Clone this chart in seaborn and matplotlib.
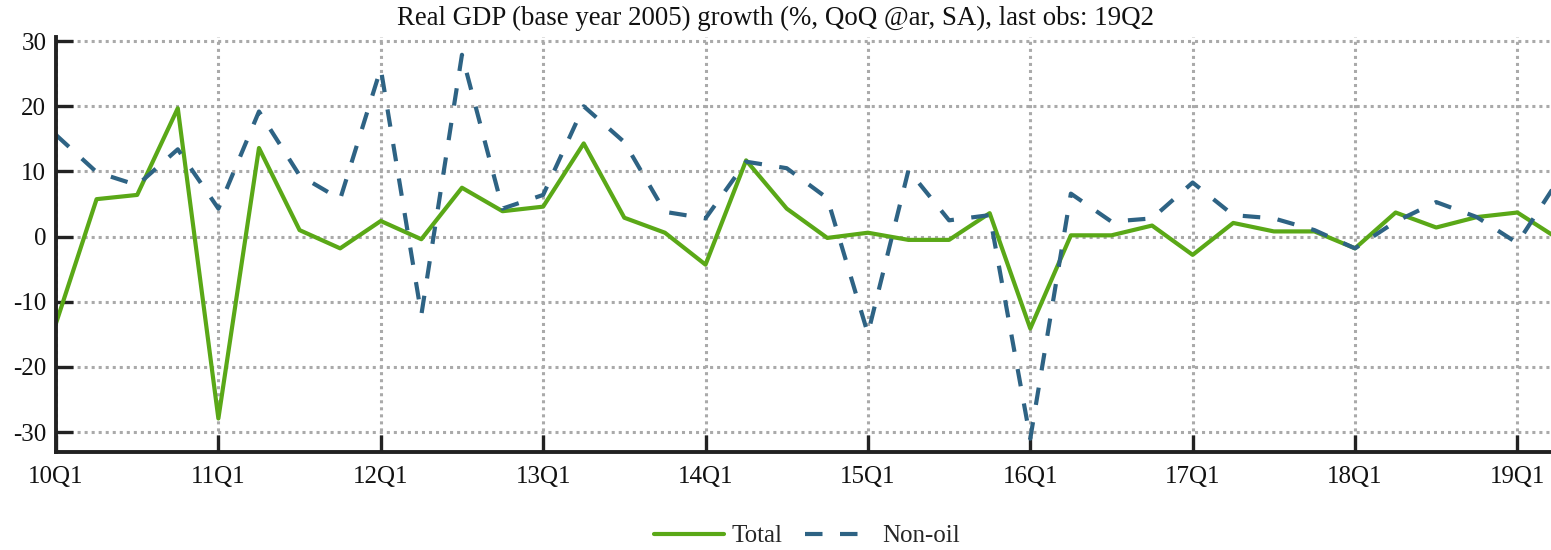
import matplotlib
matplotlib.use("Agg")
import matplotlib.pyplot as plt
import seaborn as sns
import pandas as pd
import numpy as np

quarters = [f"{y:02d}Q{q}" for y in range(10, 20) for q in range(1, 5)][:38]

total = [-13.3, 5.75, 6.4, 19.7, -27.9, 13.6, 1.0, -1.8,
         2.4, -0.4, 7.5, 3.9, 4.6, 14.3, 2.9, 0.6,
         -4.3, 11.7, 4.3, -0.2, 0.6, -0.5, -0.5, 3.6,
         -14.1, 0.2, 0.2, 1.7, -2.8, 2.1, 0.8, 0.8,
         -1.8, 3.7, 1.4, 3.0, 3.7, -0.3]

non_oil = [15.6, 9.9, 7.9, 13.4, 4.3, 19.2, 9.4, 5.75,
           25.8, -12.0, 27.9, 4.3, 6.4, 20.0, 14.5, 3.8,
           2.8, 11.5, 10.5, 5.9, -14.9, 10.2, 2.5, 3.3,
           -31.0, 6.6, 2.3, 2.8, 8.3, 3.3, 2.8, 1.0,
           -1.8, 2.3, 5.3, 3.0, -1.0, 8.6]

series_names = ["Total", "Non-oil"]
colors = {"Total": "#5aa817", "Non-oil": "#2e6384"}

df = pd.concat([
    pd.DataFrame({"idx": np.arange(len(quarters)), "value": total, "series": "Total"}),
    pd.DataFrame({"idx": np.arange(len(quarters)), "value": non_oil, "series": "Non-oil"}),
])

sns.set_style("white")
plt.rcParams["font.family"] = ["Liberation Serif", "DejaVu Serif"]
plt.rcParams["axes.unicode_minus"] = False

fig = plt.figure(figsize=(15.51, 5.5), dpi=100)
ax = fig.add_axes([56 / 1551, 98.3 / 550, (1558 - 56) / 1551, 414.5 / 550])

sns.lineplot(data=df, x="idx", y="value", hue="series", style="series",
             hue_order=series_names, style_order=series_names,
             palette=colors, dashes={"Total": "", "Non-oil": (4.2, 4.2)},
             linewidth=3, ax=ax, legend=True)

ax.set_xlim(0, 37)
ax.set_ylim(-33, 30.6)
xt = list(range(0, 38, 4))
ax.set_xticks(xt)
ax.set_xticklabels([quarters[i] for i in xt])
ax.set_yticks([-30, -20, -10, 0, 10, 20, 30])
ax.set_xlabel("")
ax.set_ylabel("")

ax.grid(True, linestyle=(0, (1, 1.3)), color="#aaaaaa", linewidth=2.2)
ax.set_axisbelow(True)

for s in ["top", "right"]:
    ax.spines[s].set_visible(False)
for s in ["left", "bottom"]:
    ax.spines[s].set_color("#222222")
    ax.spines[s].set_linewidth(2.8)

ax.tick_params(axis="both", direction="in", length=12, width=2.4,
               color="#222222", labelsize=18, labelcolor="#111111")
ax.tick_params(axis="y", pad=7, left=True)
ax.tick_params(axis="x", pad=10, bottom=True)

handles, labels = ax.get_legend_handles_labels()
ax.get_legend().remove()
fig.legend(handles, labels, loc="center", bbox_to_anchor=(807 / 1551, 1 - 536 / 550),
           ncol=2, frameon=False, fontsize=18, handlelength=2.8,
           handletextpad=0.3, columnspacing=0.9)

fig.text(0.5, 1 - 18 / 550, "Real GDP (base year 2005) growth (%, QoQ @ar, SA), last obs: 19Q2",
         ha="center", va="center", fontsize=19.4, color="#111111")

fig.savefig("out.png", dpi=100)
